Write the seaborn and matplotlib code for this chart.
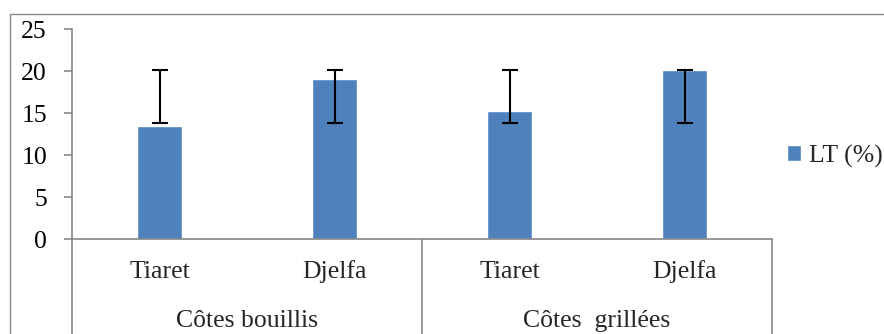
import matplotlib
matplotlib.use("Agg")
import matplotlib.pyplot as plt
from matplotlib.lines import Line2D
import seaborn as sns
import pandas as pd
import numpy as np

# ---- data ----
groups = ["Côtes bouillis", "Côtes  grillées"]
cities = ["Tiaret", "Djelfa", "Tiaret", "Djelfa"]
group_of_bar = ["Côtes bouillis", "Côtes bouillis", "Côtes  grillées", "Côtes  grillées"]
values = [13.4, 19.0, 15.2, 20.1]
err_low = [13.8, 13.8, 13.8, 13.8]
err_high = [20.1, 20.1, 20.1, 20.1]
y_ticks = [0, 5, 10, 15, 20, 25]
series_name = "LT (%)"

sns.set_theme(style="white")
plt.rcParams["font.family"] = ["Liberation Serif", "DejaVu Serif"]
FS = 18.5

W, H = 884, 334
fig = plt.figure(figsize=(W / 100, H / 100), dpi=100)
ax_l, ax_r, ax_t, ax_b = 72, 772, 29, 239
ax = fig.add_axes([ax_l / W, (H - ax_b) / H, (ax_r - ax_l) / W, (ax_b - ax_t) / H])

keys = [f"{g}|{c}" for g, c in zip(group_of_bar, cities)]
df = pd.DataFrame({"key": keys, "val": values})
sns.barplot(data=df, x="key", y="val", order=keys, color="#4F81BD", saturation=1,
            width=0.255, errorbar=None, ax=ax, label=series_name)

xpos = np.arange(len(keys))
lo = np.array(err_low)
hi = np.array(err_high)
mid = (lo + hi) / 2
ax.errorbar(xpos, mid, yerr=(hi - lo) / 2, fmt="none", ecolor="black",
            elinewidth=1.5, capsize=5.5, capthick=1.5, zorder=5)

ax.set_xlim(-0.5, len(keys) - 0.5)
ax.set_ylim(0, 25)
ax.set_yticks(y_ticks)
ax.set_yticklabels([str(t) for t in y_ticks], fontsize=FS)
ax.set_xticks([])
ax.set_xlabel("")
ax.set_ylabel("")

gray = "#868686"
for s in ["top", "right"]:
    ax.spines[s].set_visible(False)
for s in ["left", "bottom"]:
    ax.spines[s].set_color(gray)
    ax.spines[s].set_linewidth(1.2)
ax.tick_params(axis="y", which="both", left=True, direction="out", length=6,
               width=1.2, color=gray, pad=12, labelcolor="black")

trans = ax.get_xaxis_transform()
axh = ax_b - ax_t
# category labels
for x, c in zip(xpos, cities):
    ax.text(x, -33 / axh, c, transform=trans, ha="center", va="center", fontsize=FS)
ngroups = len(groups)
per = len(keys) // ngroups
for i, g in enumerate(groups):
    cx = i * per + (per - 1) / 2
    ax.text(cx, -82 / axh, g, transform=trans, ha="center", va="center", fontsize=FS)
# separators
for i in range(ngroups + 1):
    xs = i * per - 0.5
    ax.plot([xs, xs], [0, -1.0], transform=trans, color=gray, lw=1.2, clip_on=False)

# chart area frame (cut off by figure edges)
fig.add_artist(Line2D([10 / W, 1.01], [1 - 14 / H, 1 - 14 / H], transform=fig.transFigure,
                      color=gray, lw=1.0))
fig.add_artist(Line2D([10 / W, 10 / W], [1 - 14 / H, -0.01], transform=fig.transFigure,
                      color=gray, lw=1.0))

leg = ax.legend(loc="center left", bbox_to_anchor=(787 / W, 1 - 156 / H),
                bbox_transform=fig.transFigure, frameon=False, fontsize=FS,
                handlelength=0.55, handleheight=0.55, handletextpad=0.3,
                borderpad=0, borderaxespad=0)

fig.savefig("out.png", dpi=100)
